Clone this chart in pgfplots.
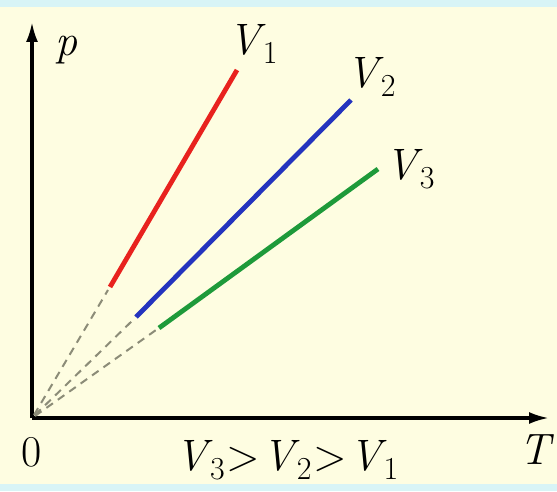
\documentclass[border=0pt]{standalone}
\usepackage{pgfplots}
\pgfplotsset{compat=1.18}
\usetikzlibrary{arrows.meta}
\definecolor{bgyellow}{RGB}{254,253,225}
\definecolor{bandcyan}{RGB}{216,244,246}
\definecolor{lred}{RGB}{232,34,30}
\definecolor{lblue}{RGB}{36,52,190}
\definecolor{lgreen}{RGB}{30,154,58}
\definecolor{dashgray}{RGB}{140,140,120}
\tikzset{lab/.style={font=\fontsize{44}{44}\selectfont, inner sep=0pt}}
\newcommand{\V}[1]{\textit{V}\kern-3pt\raisebox{-9pt}{\fontsize{32}{32}\selectfont #1}}

\begin{document}
\begin{tikzpicture}
% background, 1pt = 1 pixel of the reference, origin at the axes' corner
\fill[bgyellow] (-32pt,-73pt) rectangle (525pt,418pt);
\fill[bandcyan] (-32pt,411pt) rectangle (525pt,418pt);
\fill[bandcyan] (-32pt,-73pt) rectangle (525pt,-66pt);
\begin{axis}[
    at={(0pt,0pt)}, anchor=origin,
    x=1pt, y=1pt,
    xmin=0, xmax=517,
    ymin=0, ymax=396,
    axis lines=left,
    ticks=none,
    axis line style={line width=3.2pt, -{Latex[length=20pt,width=12pt]}},
    clip=false,
]
% dashed extrapolations to absolute zero
\addplot[dashgray, line width=2pt, dash pattern=on 8pt off 6pt] coordinates {(2,3) (76,128)};
\addplot[dashgray, line width=2pt, dash pattern=on 8pt off 6pt] coordinates {(3,3) (101,98)};
\addplot[dashgray, line width=2pt, dash pattern=on 8pt off 6pt] coordinates {(3,2) (124,88)};
% isochores
\addplot[lred, line width=4.8pt] coordinates {(78,131) (205,348)};
\addplot[lblue, line width=4.8pt] coordinates {(104,101) (319,318)};
\addplot[lgreen, line width=4.8pt] coordinates {(127,90) (346,249)};

\node[lab] at (axis cs:34,368) {\textit{p}};
\node[lab] at (axis cs:221,374) {\V{1}};
\node[lab] at (axis cs:339,341) {\V{2}};
\node[lab] at (axis cs:378,249) {\V{3}};
\node[lab] at (axis cs:0,-34) {0};
\node[lab] at (axis cs:505,-32) {\textit{T}};
\node[lab] at (axis cs:255,-42) {\V{3}\kern2pt>\kern2pt\V{2}\kern2pt>\kern2pt\V{1}};
\end{axis}
\end{tikzpicture}
\end{document}
